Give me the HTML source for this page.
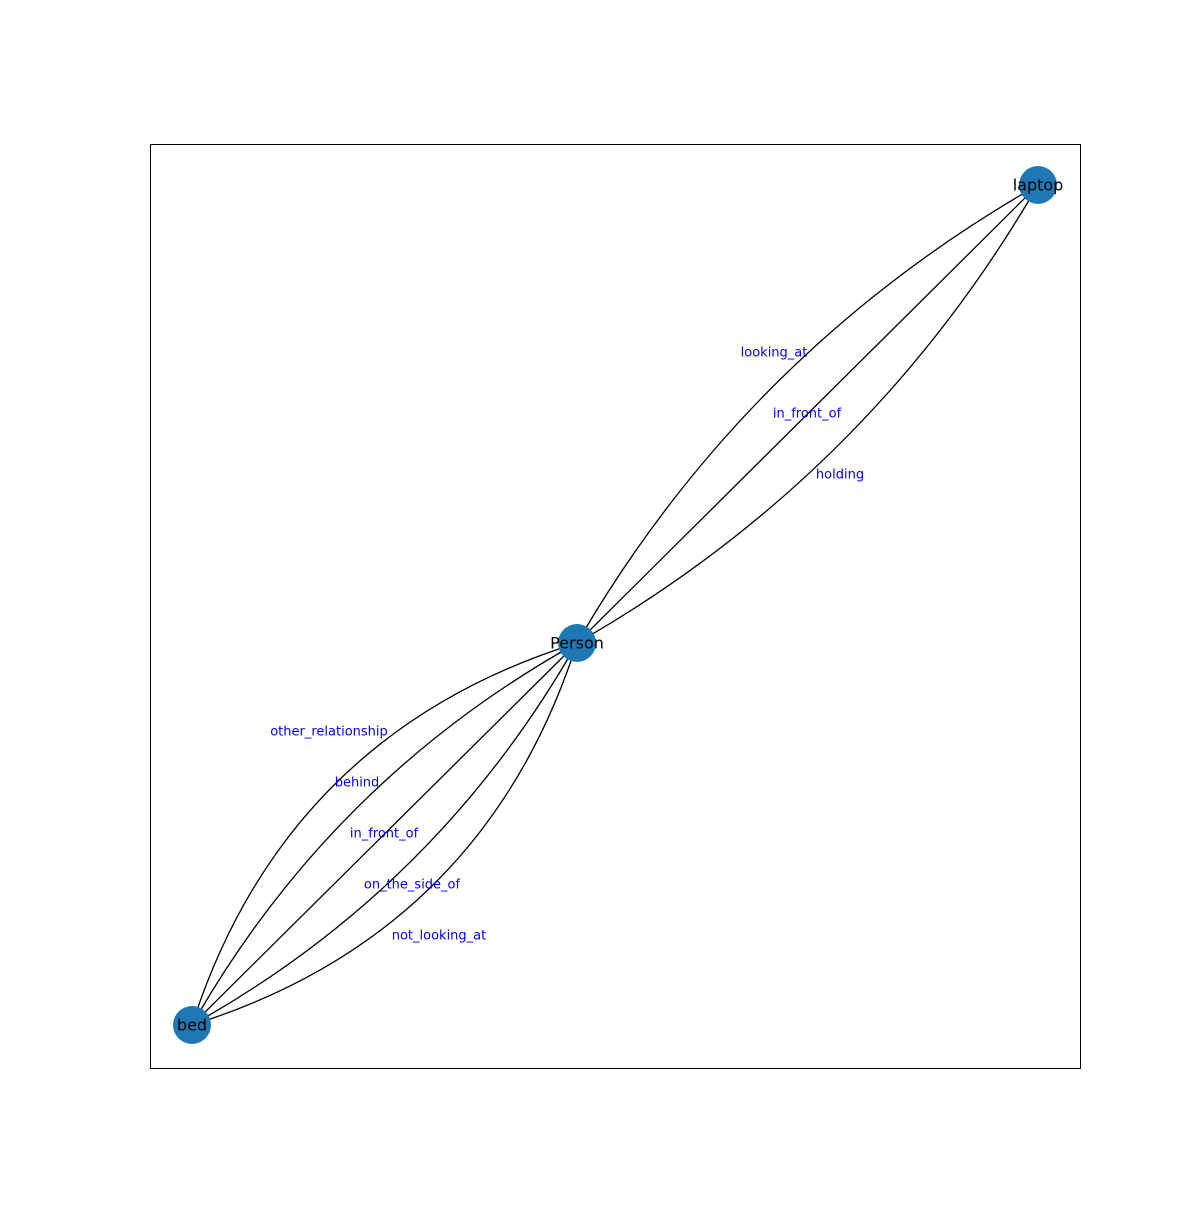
<!DOCTYPE html>
<html><head><meta charset="utf-8"><style>html,body{margin:0;padding:0;background:#fff}</style></head>
<body>
<svg width="1200" height="1200" viewBox="0 0 1200 1200" xmlns="http://www.w3.org/2000/svg">
<rect x="0" y="0" width="1200" height="1200" fill="#fff"/>
<rect x="150.5" y="144.5" width="930" height="924" fill="none" stroke="#000" stroke-width="1"/>
<g fill="none" stroke="#000" stroke-width="1.3">
<path d="M577,643 Q745.5,352 1038,185"/>
<path d="M577,643 L1038,185"/>
<path d="M577,643 Q869.5,476 1038,185"/>
<path d="M577,643 Q285.5,734 192,1025"/>
<path d="M577,643 Q331,780 192,1025"/>
<path d="M577,643 L192,1025"/>
<path d="M577,643 Q438,888 192,1025"/>
<path d="M577,643 Q483.5,934 192,1025"/>
</g>
<g fill="#1f77b4">
<circle cx="1038" cy="185" r="19"/>
<circle cx="577" cy="643" r="19"/>
<circle cx="192" cy="1025" r="19"/>
</g>
<g font-family="'DejaVu Sans','Liberation Sans',sans-serif" font-size="16" fill="#000" text-anchor="middle" dominant-baseline="central">
<text x="1038" y="185">laptop</text>
<text x="577" y="643">Person</text>
<text x="192" y="1025">bed</text>
</g>
<g font-family="'DejaVu Sans','Liberation Sans',sans-serif" font-size="13" fill="#0000ff" text-anchor="middle" dominant-baseline="central">
<text x="774" y="353">looking_at</text>
<text x="807" y="414">in_front_of</text>
<text x="840" y="475">holding</text>
<text x="329" y="732">other_relationship</text>
<text x="357" y="783">behind</text>
<text x="384" y="834">in_front_of</text>
<text x="412" y="885">on_the_side_of</text>
<text x="439" y="936">not_looking_at</text>
</g>
</svg>
</body></html>
